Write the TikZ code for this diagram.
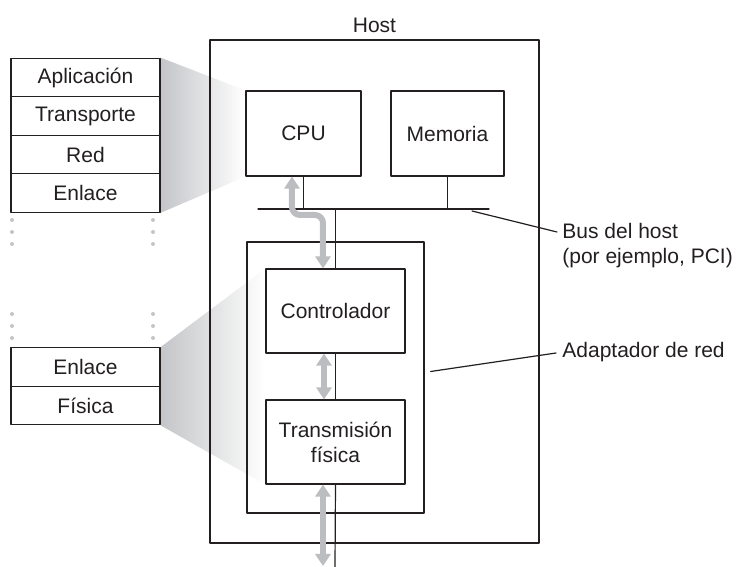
\documentclass[tikz,border=0pt]{standalone}
\usepackage{fontspec}
\setmainfont{Liberation Sans}
\usetikzlibrary{arrows.meta,backgrounds}
\definecolor{ink}{HTML}{231F20}
\definecolor{pipegray}{HTML}{BCBDC0}
\definecolor{fadegray}{HTML}{C4C5C8}

\begin{document}
\begin{tikzpicture}[x=0.5pt,y=-0.5pt,line cap=round,line join=round,
  every node/.style={font=\fontsize{10.5}{12.5}\selectfont,text=ink},
  box/.style={draw=ink,line width=.6pt,fill=white,align=center,inner sep=0pt},
  layer/.style={box,minimum width=74.5pt,minimum height=19.25pt},
  wire/.style={ink,line width=.6pt},
  datapath/.style={pipegray,line width=3pt,line cap=butt,
    {Triangle[width=7.5pt,length=6pt]}-{Triangle[width=7.5pt,length=6pt]}},
  stackdot/.style={fill=fadegray,draw=none}]
  \useasboundingbox (0,0) rectangle (736,567);

  % protocol stacks
  \node[layer] (apl) at (85.5,77.5) {Aplicación};
  \node[layer] (tra) at (85.5,116) {Transporte};
  \node[layer] (red) at (85.5,154.5) {Red};
  \node[layer] (enl) at (85.5,193) {Enlace};
  \node[layer] (enlb) at (85.5,367) {Enlace};
  \node[layer] (fis) at (85.5,405.5) {Física};
  \foreach \y in {220,232,244,314,326,338} {
    \fill[stackdot] (12,\y) circle[radius=1pt];
    \fill[stackdot] (153,\y) circle[radius=1pt];
  }

  % host
  \node[box,fill=none,minimum width=164.5pt,minimum height=251.5pt,
    label={above:Host}] (host) at (374.5,291.5) {};
  \node[box,minimum width=57.5pt,minimum height=42.5pt] (cpu) at (303.5,133.5) {CPU};
  \node[box,minimum width=56.5pt,minimum height=42.5pt] (mem) at (447.5,133.5) {Memoria};
  \node[box,fill=none,minimum width=88.5pt,minimum height=135.5pt] (adapter) at (335.5,377.5) {};
  \node[box,minimum width=69.5pt,minimum height=42pt] (ctrl) at (335.5,311) {Controlador};
  \node[box,minimum width=69.5pt,minimum height=42pt] (tx) at (335.5,442) {Transmisión\\física};

  \coordinate (busL) at (258,209);
  \coordinate (busR) at (489,209);
  \coordinate (linkend) at (335,567);
  \draw[wire] (busL) -- (busR);
  \draw[wire] (cpu.south) -- (cpu.south |- busL);
  \draw[wire] (mem.south) -- (mem.south |- busL);
  \draw[wire] (ctrl.north |- busL) -- (ctrl.north);
  \draw[wire] (ctrl.south) -- (tx.north);
  \draw[wire] (tx.south) -- (linkend);

  \draw[datapath,rounded corners=4pt]
    (292,0 |- cpu.south) -- (292,215) -- (323,215) -- (323,0 |- ctrl.north);
  \draw[datapath] (324,0 |- ctrl.south) -- (324,0 |- tx.north);
  \draw[datapath] (323,0 |- tx.south) -- (323,566);

  % callouts
  \node[anchor=west,align=left,inner sep=0pt] (buslbl) at (562,246)
    {Bus del host\\(por ejemplo, PCI)};
  \node[anchor=west,inner sep=0pt] (adlbl) at (562,352) {Adaptador de red};
  \draw[wire] ([shift={(-17,2)}]busR) -- ([shift={(-5,-14)}]buslbl.west);
  \draw[wire] ([shift={(6,-6)}]adapter.east) -- ([shift={(-6,1)}]adlbl.west);

  \begin{pgfonlayer}{background}
    \shade[left color=fadegray,right color=white]
      (apl.north east) -- (cpu.north west) -- (cpu.south west) -- (enl.south east) -- cycle;
    \shade[left color=fadegray,right color=white]
      (enlb.north east) -- (ctrl.north west) -- (tx.south west) -- (fis.south east) -- cycle;
  \end{pgfonlayer}
\end{tikzpicture}
\end{document}
